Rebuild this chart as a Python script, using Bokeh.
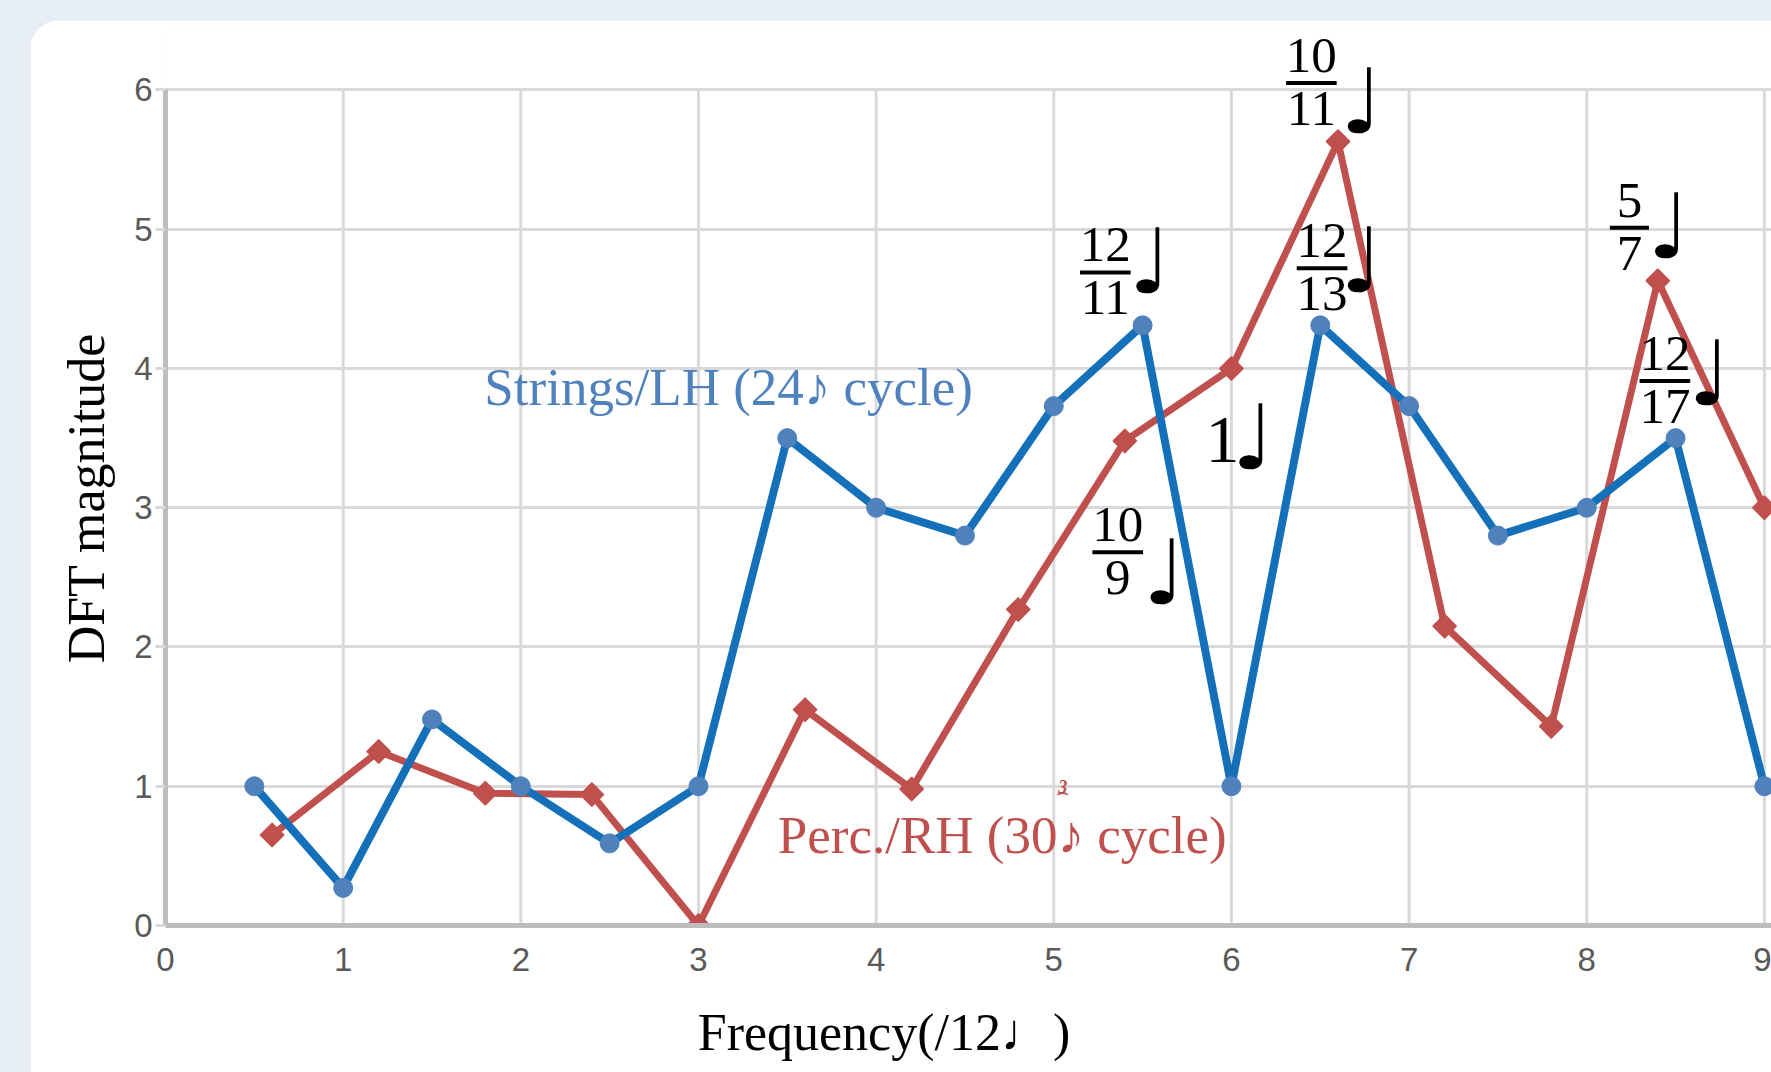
import math
from bokeh.plotting import figure
from bokeh.models import Label
from bokeh.layouts import column
from bokeh.embed import file_html
from bokeh.resources import INLINE

# ---------------- data ----------------
strings_freq = [0.5, 1.0, 1.5, 2.0, 2.5, 3.0, 3.5, 4.0, 4.5, 5.0, 5.5, 6.0,
                6.5, 7.0, 7.5, 8.0, 8.5, 9.0]
strings_mag = [1.0, 0.27, 1.48, 1.0, 0.59, 1.0, 3.5, 3.0, 2.8, 3.73, 4.31, 1.0,
               4.31, 3.73, 2.8, 3.0, 3.5, 1.0]
perc_freq = [0.6, 1.2, 1.8, 2.4, 3.0, 3.6, 4.2, 4.8, 5.4, 6.0, 6.6, 7.2, 7.8, 8.4, 9.0]
perc_mag = [0.65, 1.25, 0.95, 0.94, 0.0, 1.55, 0.98, 2.27, 3.48, 4.0, 5.63, 2.15,
            1.43, 4.63, 3.0]
x_ticks = [0, 1, 2, 3, 4, 5, 6, 7, 8, 9]
y_ticks = [0, 1, 2, 3, 4, 5, 6]

x_title = "Frequency(/12\u2669)"
y_title = "DFT magnitude"
strings_label = "Strings/LH (24\u266A cycle)"
perc_label = "Perc./RH (30\u266A cycle)"

# period annotations (fractions of a quarter note)
frac_num = ["12", "10", "12", "5", "12", "10"]
frac_den = ["11", "11", "13", "7", "17", "9"]
frac_x = [5.29, 6.45, 6.51, 8.24, 8.44, 5.36]      # fraction centre
frac_bar_y = [4.69, 6.05, 4.72, 5.01, 3.91, 2.68]  # fraction bar level
note_x = [5.54, 6.73, 6.73, 8.46, 8.69, 5.62]      # note head
note_y = [4.58, 5.73, 4.59, 4.83, 3.78, 2.35]      # bottom of note head
one_label = "1"
one_x, one_y = 5.95, 3.33
one_note_x, one_note_y = 6.12, 3.32

SERIF = "Liberation Serif"
NOTE_FONT = "DejaVu Sans"
BLUE_LINE = "#1570BA"
BLUE_MARK = "#4F81BD"
RED = "#C0504D"
NOTE_DROP = 0.19   # distance from the note glyph's box bottom to its head bottom

p = figure(width=1741, height=1052, x_range=(0, 9.04), y_range=(0, 6.42),
           output_backend="svg", toolbar_location=None,
           min_border_left=135, min_border_right=0, min_border_top=11,
           min_border_bottom=147)
p.margin = (20, 0, 0, 30)
p.styles = {"border-top-left-radius": "30px", "overflow": "hidden"}
p.background_fill_color = "white"
p.border_fill_color = "white"
p.outline_line_color = None

# grid
p.xgrid.visible = False
p.ygrid.ticker = y_ticks
p.ygrid.grid_line_color = "#d9d9d9"
p.ygrid.grid_line_width = 3
p.segment(x0=x_ticks, y0=[y_ticks[0]] * len(x_ticks), x1=x_ticks,
          y1=[y_ticks[-1]] * len(x_ticks), line_color="#d9d9d9", line_width=3,
          level="underlay")

# axes
for ax in (p.xaxis[0], p.yaxis[0]):
    ax.axis_line_color = "#bdbdbd"
    ax.axis_line_width = 5
    ax.minor_tick_line_color = None
    ax.major_label_text_font = "Liberation Sans"
    ax.major_label_text_font_size = "33px"
    ax.major_label_text_color = "#595959"
    ax.axis_label_text_font = SERIF
    ax.axis_label_text_font_size = "52px"
    ax.axis_label_text_font_style = "normal"
    ax.axis_label_text_color = "black"
p.xaxis.ticker = x_ticks
p.yaxis.ticker = y_ticks
p.xaxis.major_tick_line_color = None
p.xaxis.major_label_standoff = 16
p.yaxis.bounds = (0, 6)
p.yaxis.major_tick_out = 10
p.yaxis.major_tick_in = 0
p.yaxis.major_tick_line_color = "#d9d9d9"
p.yaxis.major_tick_line_width = 3
p.yaxis.major_label_standoff = 3
# trailing wide spaces shift the centred titles to where the reference has them
p.xaxis.axis_label = x_title + "\u2003\u2003\u2003\u00a0"
p.xaxis.axis_label_standoff = 30
p.yaxis.axis_label = y_title + "\u00a0\u00a0\u00a0"
p.yaxis.axis_label_standoff = 16

# series
p.line(perc_freq, perc_mag, line_color=RED, line_width=7)
p.scatter(perc_freq, perc_mag, marker="square", size=16, angle=math.pi / 4,
          fill_color=RED, line_color=RED, line_width=2, line_join="round")
p.line(strings_freq, strings_mag, line_color=BLUE_LINE, line_width=8)
p.scatter(strings_freq, strings_mag, marker="circle", size=19, fill_color=BLUE_MARK,
          line_color=BLUE_MARK)

# fraction bars
bar_w = [0.155 + 0.065 * max(len(a), len(b)) for a, b in zip(frac_num, frac_den)]
p.segment(x0=[x - w / 2 for x, w in zip(frac_x, bar_w)], y0=frac_bar_y,
          x1=[x + w / 2 for x, w in zip(frac_x, bar_w)], y1=frac_bar_y,
          line_color="black", line_width=4)

for num, den, fx, fy, nx, ny in zip(frac_num, frac_den, frac_x, frac_bar_y, note_x, note_y):
    p.add_layout(Label(x=fx, y=fy + 0.08, text=num, text_font=SERIF,
                       text_font_size="51px", text_align="center",
                       text_baseline="bottom", text_color="black"))
    p.add_layout(Label(x=fx, y=fy - 0.30, text=den, text_font=SERIF,
                       text_font_size="51px", text_align="center",
                       text_baseline="bottom", text_color="black"))
    p.add_layout(Label(x=nx, y=ny - NOTE_DROP, text="\u2669", text_font=NOTE_FONT,
                       text_font_size="90px", text_align="center",
                       text_baseline="bottom", text_color="black"))

p.add_layout(Label(x=one_x, y=one_y, text=one_label, text_font=SERIF,
                   text_font_size="68px", text_align="center",
                   text_baseline="bottom", text_color="black"))
p.add_layout(Label(x=one_note_x, y=one_note_y - NOTE_DROP, text="\u2669",
                   text_font=NOTE_FONT, text_font_size="90px", text_align="center",
                   text_baseline="bottom", text_color="black"))

# series labels
p.add_layout(Label(x=3.17, y=3.66, text=strings_label, text_font=SERIF,
                   text_font_size="53px", text_align="center",
                   text_baseline="bottom", text_color=BLUE_MARK))
p.add_layout(Label(x=4.71, y=0.44, text=perc_label, text_font=SERIF,
                   text_font_size="53px", text_align="center",
                   text_baseline="bottom", text_color=RED))
p.add_layout(Label(x=5.05, y=0.95, text="3", text_font=SERIF,
                   text_font_size="18px", text_font_style="bold italic",
                   text_align="center", text_baseline="bottom", text_color=RED))
p.add_layout(Label(x=5.05, y=0.87, text="\u2322", text_font=NOTE_FONT,
                   text_font_size="20px", text_align="center",
                   text_baseline="bottom", text_color=RED))

root = column(p, width=1771, height=1072,
              styles={"background-color": "#E6EDF7"})

open("out.html", "w").write(file_html(root, INLINE))
